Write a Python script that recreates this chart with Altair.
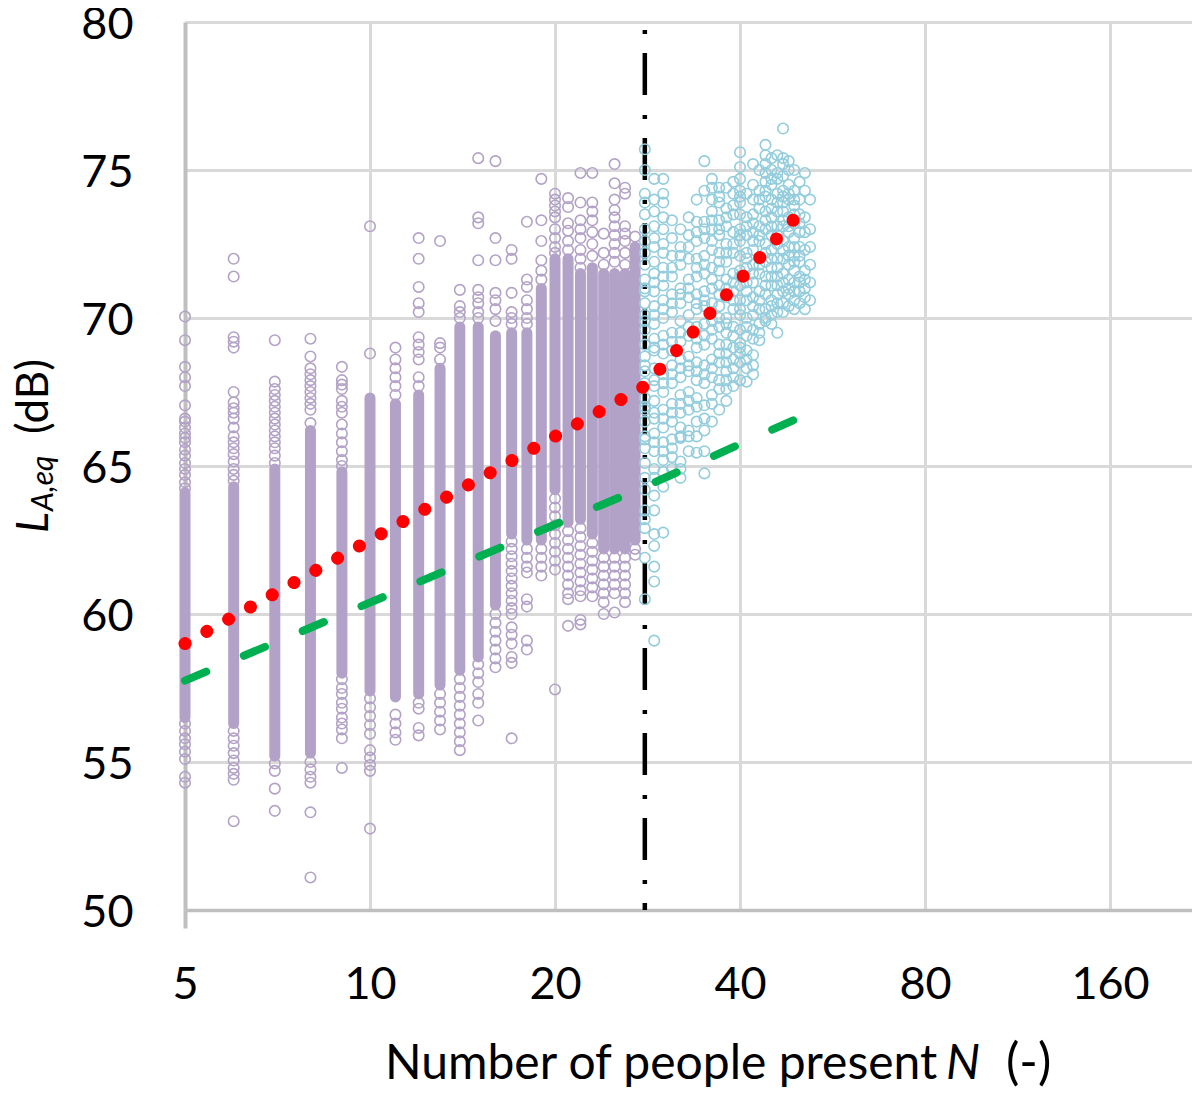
import altair as alt
import pandas as pd

# ---------------- data ----------------
# dense (solid-looking) part of each purple column: N, lower and upper LAeq
band_n  = [5, 6, 7, 8, 9, 10, 11, 12, 13, 14, 15, 16, 17, 18, 19, 20, 21, 22, 23, 24, 25, 26, 27]
band_lo = [56.5, 56.3, 55.2, 55.3, 58.0, 57.4, 57.2, 57.3, 57.6, 58.1, 58.55, 60.3, 62.7, 62.5, 62.5,
           64.2, 63.1, 63.2, 62.7, 62.2, 62.2, 62.2, 62.5]
band_hi = [64.1, 64.3, 64.9, 66.2, 64.8, 67.3, 67.1, 67.4, 68.3, 69.7, 69.7, 69.4, 69.5, 69.5, 71.0,
           72.0, 72.0, 71.5, 71.7, 71.5, 71.5, 71.5, 72.4]

# individual purple rings (N = 5 ... 27)
p05 = [70.05, 69.25, 68.35, 68.0, 67.7, 67.05, 66.6, 66.5, 66.3, 66.1, 65.95, 65.8, 65.55, 65.35, 65.1,
       64.9, 64.7, 64.45, 64.25, 56.3, 56.05, 55.8, 55.6, 55.35, 55.1, 54.5, 54.3]
p06 = [72.0, 71.4, 69.35, 69.2, 69.0, 67.5, 67.15, 66.95, 66.8, 66.6, 66.3, 66.0, 65.8, 65.6, 65.4,
       65.15, 64.9, 64.7, 64.5, 56.05, 55.8, 55.55, 55.3, 55.05, 54.8, 54.6, 54.4, 53.0]
p07 = [69.25, 67.85, 67.6, 67.4, 67.2, 67.0, 66.8, 66.6, 66.4, 66.2, 66.0, 65.8, 65.6, 65.35, 65.1,
       54.95, 54.7, 54.1, 53.35]
p08 = [69.3, 68.7, 68.3, 68.1, 67.9, 67.7, 67.5, 67.3, 67.1, 66.9, 66.45, 55.0, 54.75, 54.5, 54.3,
       53.3, 51.1]
p09 = [68.35, 67.9, 67.75, 67.6, 67.2, 67.0, 66.8, 66.4, 66.1, 65.8, 65.5, 65.2, 65.0, 57.8, 57.5,
       57.3, 57.0, 56.8, 56.5, 56.3, 56.1, 55.8, 54.8]
p10 = [73.1, 68.8, 57.15, 56.85, 56.55, 56.25, 55.95, 55.4, 55.15, 54.9, 54.7, 52.75]
p11 = [69.0, 68.6, 68.3, 68.0, 67.7, 67.4, 56.6, 56.3, 56.0, 55.75]
p12 = [72.7, 72.0, 71.05, 70.5, 70.2, 69.35, 69.1, 68.85, 68.6, 68.0, 67.7, 57.0, 56.8, 56.15, 55.9]
p13 = [72.6, 69.15, 69.0, 68.6, 57.3, 57.0, 56.7, 56.4, 56.1]
p14 = [70.95, 70.4, 70.2, 70.0, 57.8, 57.5, 57.2, 56.9, 56.6, 56.3, 56.0, 55.7, 55.4]
p15 = [75.4, 73.4, 73.2, 71.95, 70.95, 70.7, 70.5, 70.2, 70.0, 58.3, 58.0, 57.7, 57.3, 57.0, 56.4]
p16 = [75.3, 72.7, 71.95, 70.85, 70.6, 70.3, 69.9, 60.0, 59.7, 59.4, 59.1, 58.8, 58.5, 58.2]
p17 = [72.3, 72.0, 70.85, 70.2, 70.0, 69.8, 62.45, 62.2, 61.95, 61.7, 61.45, 61.2, 60.95, 60.7,
       60.45, 60.2, 60.0, 59.55, 59.3, 59.0, 58.55, 58.35, 55.8]
p18 = [73.25, 71.3, 71.05, 70.6, 70.3, 70.0, 69.8, 62.2, 61.9, 61.6, 61.4, 60.5, 60.25, 59.1, 58.8]
p19 = [74.7, 73.3, 72.6, 71.95, 71.6, 71.3, 62.2, 61.9, 61.6, 61.3]
p20 = [74.2, 74.0, 73.8, 73.6, 73.4, 73.0, 72.7, 72.4, 72.2, 63.9, 63.6, 63.3, 63.0, 62.7, 62.4,
       62.1, 61.8, 61.5, 57.45]
p21 = [74.05, 73.75, 73.2, 72.95, 72.6, 72.3, 62.8, 62.5, 62.2, 61.9, 61.6, 61.3, 61.0, 60.7, 60.5,
       59.6]
p22 = [74.9, 73.9, 73.3, 73.0, 72.7, 72.3, 72.0, 71.7, 62.9, 62.6, 62.3, 62.0, 61.7, 61.4, 61.1,
       60.8, 60.6, 59.8, 59.65]
p23 = [74.9, 73.9, 73.6, 73.3, 72.9, 72.5, 72.1, 62.4, 62.1, 61.8, 61.5, 61.2, 60.9, 60.6]
p24 = [72.85, 72.2, 71.8, 61.9, 61.6, 61.3, 61.0, 60.7, 60.4, 60.0]
p25 = [75.2, 74.55, 74.0, 73.65, 73.4, 73.1, 72.8, 72.5, 72.2, 71.9, 61.9, 61.6, 61.3, 61.0, 60.7,
       60.05]
p26 = [74.4, 74.2, 73.1, 72.85, 72.6, 72.2, 71.8, 61.9, 61.6, 61.3, 61.0, 60.7, 60.4]
p27 = [72.75, 62.2, 62.0]
purple_cols = [p05, p06, p07, p08, p09, p10, p11, p12, p13, p14, p15, p16, p17, p18, p19, p20,
               p21, p22, p23, p24, p25, p26, p27]

# cyan rings (N = 28 ... 52)
cyan_n = [28, 29, 30, 31, 32, 33, 34, 35, 36, 37, 38, 39, 40, 41, 42, 43, 44, 45, 46, 47, 48, 49, 50, 51, 52]
c28 = [75.7, 75.0, 74.2, 73.9, 73.5, 73.0, 72.6, 72.2, 71.8, 71.3, 71.0, 70.9, 70.5, 70.1, 69.9, 69.6,
       69.1, 68.7, 68.4, 68.2, 67.8, 67.3, 67.0, 66.9, 66.5, 66.0, 65.9, 65.6, 65.1, 64.6, 64.2, 63.5,
       63.2, 62.9, 61.9, 60.5]
c29 = [74.7, 74.0, 73.6, 73.1, 72.7, 72.4, 71.9, 71.5, 71.2, 70.9, 70.4, 70.1, 69.8, 69.3, 69.0, 68.9,
       68.3, 67.9, 67.7, 67.2, 66.8, 66.6, 66.1, 65.8, 65.5, 64.9, 64.6, 64.0, 63.5, 62.7, 62.3, 61.6,
       61.1, 59.1]
c30 = [74.7, 74.2, 73.9, 73.4, 73.0, 72.5, 72.2, 71.7, 71.4, 71.1, 70.6, 70.3, 70.0, 69.4, 69.1, 68.8,
       68.1, 67.8, 67.5, 66.9, 66.6, 66.3, 65.8, 65.5, 65.2, 64.8, 64.3, 62.75]
c31 = [73.3, 72.7, 72.1, 71.7, 71.4, 70.8, 70.5, 70.2, 69.5, 69.2, 68.9, 68.4, 68.1, 67.8, 67.1, 66.8,
       66.5, 65.9, 65.6, 65.3, 64.9]
c32 = [73.0, 72.4, 72.1, 71.8, 71.0, 70.8, 70.5, 69.9, 69.5, 69.2, 68.6, 68.3, 68.0, 67.4, 67.1, 66.8,
       66.3, 66.0, 65.95, 65.15, 64.9, 64.6]
c33 = [73.4, 72.8, 72.4, 72.0, 71.3, 71.0, 70.7, 70.1, 69.7, 69.4, 68.7, 68.4, 68.2, 67.5, 67.2, 66.9,
       66.2, 66.0, 65.5]
c34 = [74.0, 73.25, 72.9, 72.6, 72.0, 71.7, 71.4, 70.8, 70.5, 70.3, 69.7, 69.3, 69.0, 68.5, 68.2, 67.9,
       67.3, 67.0, 66.5, 66.0, 65.45]
c35 = [75.3, 74.3, 73.25, 73.0, 72.7, 72.1, 71.8, 71.5, 70.9, 70.6, 70.4, 69.8, 69.4, 69.1, 68.4, 68.1,
       67.8, 67.05, 66.6, 66.2, 65.5, 64.75]
c36 = [74.7, 74.4, 74.0, 73.6, 73.3, 73.0, 72.6, 72.3, 71.7, 71.3, 71.0, 70.5, 70.2, 69.9, 69.6, 69.3,
       68.6, 68.3, 68.0, 67.4, 67.1, 66.5]
c37 = [74.4, 74.1, 73.9, 73.3, 73.0, 72.8, 72.2, 71.9, 71.6, 71.1, 70.8, 70.4, 70.0, 69.7, 69.1, 68.8,
       68.5, 67.9, 67.6, 66.9]
c38 = [74.4, 73.7, 73.4, 73.1, 72.5, 72.2, 71.9, 71.3, 71.0, 70.7, 70.0, 69.8, 69.5, 69.1, 68.8, 68.5,
       68.2, 67.9, 67.6, 67.2]
c39 = [74.6, 74.2, 73.8, 73.5, 72.9, 72.5, 72.2, 71.5, 71.2, 70.9, 70.6, 70.3, 69.7, 69.4, 69.0, 68.6,
       68.3, 68.0, 67.7]
c40 = [75.6, 75.1, 74.7, 74.3, 74.1, 73.9, 73.5, 73.0, 72.8, 72.6, 72.1, 71.6, 71.4, 71.1, 70.6, 70.3,
       70.1, 69.6, 69.15, 69.0, 68.8, 68.5, 67.9]
c41 = [74.2, 73.4, 73.1, 72.8, 72.2, 72.0, 71.7, 71.2, 70.9, 70.6, 70.0, 69.7, 69.4, 68.9, 68.6, 68.3,
       67.85]
c42 = [75.2, 74.5, 74.0, 73.5, 73.2, 72.9, 72.6, 72.3, 71.8, 71.5, 71.2, 70.7, 70.4, 70.1, 69.6, 69.3,
       68.75, 68.4, 68.1]
c43 = [75.0, 74.3, 74.0, 73.7, 73.1, 72.8, 72.6, 72.0, 71.8, 71.5, 70.9, 70.6, 70.3, 69.8, 69.5, 69.25]
c44 = [75.85, 75.5, 75.2, 74.9, 74.6, 74.3, 74.1, 73.6, 73.3, 73.0, 72.5, 72.2, 71.9, 71.4, 71.1, 70.8,
       70.3, 70.0, 69.9]
c45 = [75.4, 75.0, 74.7, 74.5, 74.0, 73.7, 73.4, 73.1, 72.8, 72.3, 72.0, 71.7, 71.4, 71.1, 70.6, 70.4,
       70.1, 69.8]
c46 = [75.5, 74.9, 74.7, 74.2, 73.9, 73.6, 73.1, 72.8, 72.5, 72.0, 71.7, 71.4, 71.1, 70.8, 70.5, 70.2,
       69.5]
c47 = [76.4, 75.4, 75.2, 74.8, 74.3, 74.1, 73.9, 73.6, 73.3, 73.1, 72.6, 72.3, 72.0, 71.5, 71.2, 70.9,
       70.5, 70.2]
c48 = [75.3, 75.0, 74.5, 74.2, 74.0, 73.4, 73.1, 72.9, 72.4, 72.1, 71.8, 71.3, 71.0, 70.8, 70.4]
c49 = [75.0, 74.3, 74.0, 73.8, 73.5, 73.2, 72.7, 72.4, 72.1, 71.9, 71.6, 71.2, 70.9, 70.6, 70.3]
c50 = [74.6, 74.0, 73.5, 73.2, 72.9, 72.4, 72.1, 71.9, 71.4, 71.2, 70.9, 70.5]
c51 = [74.9, 74.3, 73.4, 72.9, 72.3, 71.6, 71.3, 71.0, 70.7, 70.3]
c52 = [74.0, 73.0, 72.4, 71.8, 71.2, 70.6]
cyan_cols = [c28, c29, c30, c31, c32, c33, c34, c35, c36, c37, c38, c39, c40, c41, c42, c43, c44,
             c45, c46, c47, c48, c49, c50, c51, c52]

# fitted lines
red_n = [5, 28, 48.8]
red_y = [59.0, 67.7, 73.3]
green_n = [5, 28, 49.5]
green_y = [57.75, 64.3, 66.6]

# threshold line
vline_n = [28]
vline_top = [80]
vline_bot = [50]

x_ticks = [5, 10, 20, 40, 80, 160]
y_ticks = [50, 55, 60, 65, 70, 75, 80]
x_title_parts = ["Number of people present", "N", "(-)"]
y_title_parts = ["L", "A,eq", "(dB)"]

# ---------------- tables ----------------
band_df = pd.DataFrame({"n": band_n, "y": band_lo, "y2": band_hi})
purple_df = pd.DataFrame([(n, v) for n, col in zip(band_n, purple_cols) for v in col], columns=["n", "y"])
cyan_df = pd.DataFrame([(n, v) for n, col in zip(cyan_n, cyan_cols) for v in col], columns=["n", "y"])
red_df = pd.DataFrame({"n": red_n, "y": red_y})
green_df = pd.DataFrame({"n": green_n, "y": green_y})
vline_df = pd.DataFrame({"n": vline_n, "y": vline_top, "y2": vline_bot})

FONT = "Lato"
PURPLE = "#B3A2C7"
CYAN = "#93CDDD"

xscale = alt.Scale(type="log", base=2, domain=[5, 217.5], nice=False)
yscale = alt.Scale(domain=[50, 80], nice=False, zero=False)
xaxis = alt.Axis(values=x_ticks, format="d", title=None, grid=True, gridColor="#d9d9d9", gridWidth=3,
                 domainColor="#bfbfbf", domainWidth=3.5,
                 ticks=True, tickSize=18, tickColor="#bfbfbf", tickWidth=4,
                 tickOpacity=alt.condition("datum.value === 5", alt.value(1), alt.value(0)),
                 labelFont=FONT, labelFontSize=45,
                 labelColor="black", labelPadding=34, labelFlush=False)
yaxis = alt.Axis(values=y_ticks, title=None, grid=True, gridColor="#d9d9d9", gridWidth=3,
                 domainColor="#bfbfbf", domainWidth=4, ticks=False, labelFont=FONT, labelFontSize=45,
                 labelColor="black", labelPadding=52, labelOffset=2)

X = alt.X("n:Q", scale=xscale, axis=xaxis)
Y = alt.Y("y:Q", scale=yscale, axis=yaxis)

bands = alt.Chart(band_df).mark_rule(color=PURPLE, strokeWidth=11, strokeCap="round").encode(
    x=X, y=Y, y2="y2:Q")
purple = alt.Chart(purple_df).mark_point(shape="circle", filled=False, size=110, strokeWidth=1.6,
                                         color=PURPLE, opacity=1).encode(x=X, y=Y)
vline = alt.Chart(vline_df).mark_rule(color="black", strokeWidth=4.5, strokeDash=[42, 20, 4, 19],
                                      strokeDashOffset=54).encode(x=X, y=Y, y2="y2:Q")
cyan = alt.Chart(cyan_df).mark_point(shape="circle", filled=False, size=110, strokeWidth=1.6,
                                     color=CYAN, opacity=1).encode(x=X, y=Y)
green = alt.Chart(green_df).mark_line(color="#00B050", strokeWidth=8, strokeDash=[23, 40.86],
                                      strokeCap="round").encode(x=X, y=Y)
red = alt.Chart(red_df).mark_line(color="#FF0000", strokeWidth=13, strokeDash=[0.1, 24.88],
                                  strokeCap="round").encode(x=X, y=Y)

# axis titles as text marks (mixed italic / subscript)
def label(txt, x, y, size, italic=False, angle=0):
    kw = dict(font=FONT, fontSize=size, color="black", align="left", baseline="alphabetic")
    if italic:
        kw["fontStyle"] = "italic"
    if angle:
        kw["angle"] = angle
    return alt.Chart(pd.DataFrame({"t": [txt]})).mark_text(**kw).encode(
        x=alt.value(x), y=alt.value(y), text="t:N")

xt1 = label(x_title_parts[0], 200, 1057, 48)
xt2 = label(x_title_parts[1], 761, 1057, 48, italic=True)
xt3 = label(x_title_parts[2], 821, 1057, 50)
yt1 = label(y_title_parts[0], -137, 511, 44, italic=True, angle=270)
yt2 = label(y_title_parts[1], -132, 489, 30, italic=True, angle=270)
yt3 = label(y_title_parts[2], -137, 412, 44, angle=270)

chart = alt.layer(bands, purple, vline, cyan, green, red, xt1, xt2, xt3, yt1, yt2, yt3).properties(
    width=1007, height=888,
    padding={"left": 177, "top": 14, "right": 0, "bottom": 181},
    autosize=alt.AutoSizeParams(type="none"),
    background="white",
).configure_view(stroke=None)

chart.save("out.html", embed_options={"renderer": "svg", "actions": False})
